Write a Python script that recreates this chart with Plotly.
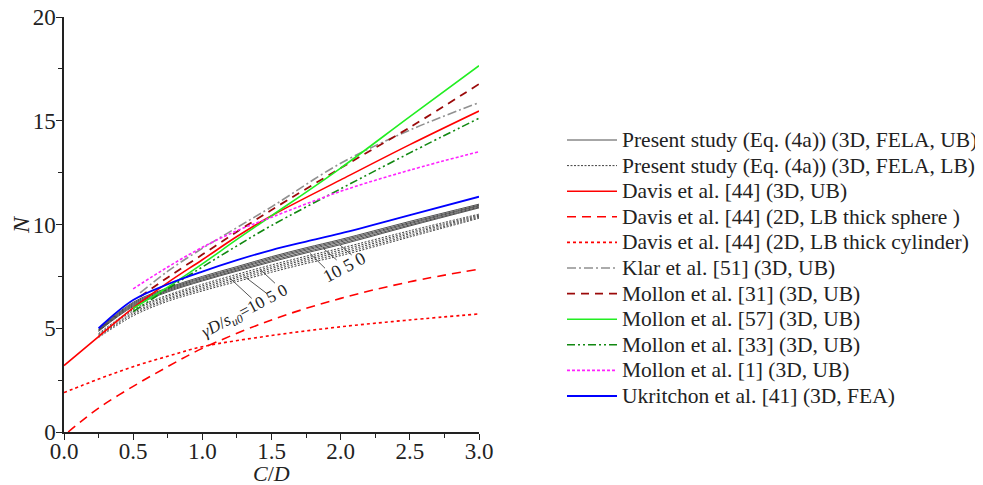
import plotly.graph_objects as go

# ---------------- data ----------------
C_fela = [0.25, 0.5, 0.75, 1.0, 1.25, 1.5, 1.75, 2.0, 2.5, 3.0]
ub_g0 = [4.97, 6.25, 6.95, 7.50, 7.97, 8.45, 8.88, 9.28, 10.15, 10.98]
ub_g25 = [4.94, 6.20, 6.90, 7.44, 7.91, 8.39, 8.82, 9.22, 10.09, 10.93]
ub_g5 = [4.91, 6.15, 6.85, 7.39, 7.86, 8.33, 8.76, 9.16, 10.04, 10.89]
ub_g75 = [4.88, 6.10, 6.80, 7.33, 7.80, 8.26, 8.69, 9.09, 9.98, 10.84]
ub_g10 = [4.85, 6.05, 6.75, 7.28, 7.75, 8.20, 8.63, 9.03, 9.93, 10.80]
lb_g0 = [4.75, 5.90, 6.60, 7.12, 7.60, 8.05, 8.47, 8.86, 9.70, 10.50]
lb_g25 = [4.70, 5.83, 6.53, 7.04, 7.51, 7.96, 8.38, 8.77, 9.62, 10.45]
lb_g5 = [4.65, 5.75, 6.45, 6.96, 7.43, 7.88, 8.30, 8.68, 9.55, 10.40]
lb_g75 = [4.60, 5.68, 6.38, 6.88, 7.34, 7.79, 8.21, 8.59, 9.47, 10.35]
lb_g10 = [4.55, 5.60, 6.30, 6.80, 7.25, 7.70, 8.12, 8.50, 9.40, 10.30]

ukritchon_N = [5.00, 6.36, 7.12, 7.73, 8.28, 8.77, 9.18, 9.57, 10.45, 11.34]

C_davis3d = [0, 0.25, 0.5, 0.75, 1.0, 1.25, 1.5, 2.0, 2.5, 3.0]
davis3d_N = [3.2, 4.6, 5.98, 7.2, 8.3, 9.42, 10.42, 12.15, 13.85, 15.47]

C_sphere = [0.03, 0.25, 0.5, 0.75, 1.0, 1.5, 2.0, 2.5, 3.0]
sphere_N = [0.0, 1.15, 2.2, 3.15, 4.03, 5.4, 6.44, 7.24, 7.85]

C_cyl = [0, 0.25, 0.5, 0.75, 1.0, 1.5, 2.0, 2.5, 3.0]
cyl_N = [1.9, 2.55, 3.15, 3.65, 4.11, 4.65, 5.07, 5.4, 5.69]

C_m55 = [0.55, 0.75, 1.0, 1.25, 1.5, 2.0, 2.5, 3.0]
klar_N = [6.7, 7.75, 8.85, 9.85, 10.85, 12.95, 14.55, 15.87]
mollon31_N = [6.52, 7.45, 8.55, 9.65, 10.7, 12.72, 14.68, 16.77]

C_m50 = [0.5, 0.75, 1.0, 1.25, 1.5, 2.0, 2.5, 3.0]
mollon57_N = [5.95, 6.98, 8.1, 9.28, 10.42, 12.72, 15.2, 17.65]
mollon33_N = [5.8, 6.9, 7.95, 8.97, 9.95, 11.72, 13.45, 15.12]
mollon1_N = [6.9, 7.95, 8.9, 9.7, 10.35, 11.6, 12.62, 13.51]

x_ticks = [0.0, 0.5, 1.0, 1.5, 2.0, 2.5, 3.0]
y_ticks = [0, 5, 10, 15, 20]

legend_labels = [
    "Present study (Eq. (4a)) (3D, FELA, UB)",
    "Present study (Eq. (4a)) (3D, FELA, LB)",
    "Davis et al. [44] (3D, UB)",
    "Davis et al. [44] (2D, LB thick sphere )",
    "Davis et al. [44] (2D, LB thick cylinder)",
    "Klar et al. [51] (3D, UB)",
    "Mollon et al. [31] (3D, UB)",
    "Mollon et al. [57] (3D, UB)",
    "Mollon et al. [33] (3D, UB)",
    "Mollon et al. [1] (3D, UB)",
    "Ukritchon et al. [41] (3D, FEA)",
]

FONT = "Liberation Serif, Times New Roman, serif"
TXT = "#222222"

# line styles (one per legend entry)
styles = [
    dict(color="#3a3a3a", width=0.9),
    dict(color="#2a2a2a", width=0.9, dash="2px,1.5px"),
    dict(color="#ff0000", width=1.6),
    dict(color="#ff0000", width=1.6, dash="9px,6px"),
    dict(color="#ff0000", width=1.6, dash="3px,3px"),
    dict(color="#909090", width=1.6, dash="9px,3px,2px,3px"),
    dict(color="#9b0a0a", width=1.8, dash="8px,6px"),
    dict(color="#22ee22", width=1.6),
    dict(color="#118811", width=1.6, dash="8px,3px,2px,3px,2px,3px"),
    dict(color="#ff22ff", width=1.6, dash="3px,2px"),
    dict(color="#0000ff", width=1.8),
]

fig = go.Figure()

def add(x, y, idx):
    fig.add_trace(go.Scatter(x=x, y=y, mode="lines", name=legend_labels[idx],
                             line=dict(shape="spline", **styles[idx]), showlegend=False))

for ys in [ub_g0, ub_g25, ub_g5, ub_g75, ub_g10]:
    add(C_fela, ys, 0)
for ys in [lb_g0, lb_g25, lb_g5, lb_g75, lb_g10]:
    add(C_fela, ys, 1)
add(C_davis3d, davis3d_N, 2)
add(C_sphere, sphere_N, 3)
add(C_cyl, cyl_N, 4)
add(C_m55, klar_N, 5)
add(C_m55, mollon31_N, 6)
add(C_m50, mollon57_N, 7)
add(C_m50, mollon33_N, 8)
add(C_m50, mollon1_N, 9)
add(C_fela, ukritchon_N, 10)

# ---- geometry (page pixels of the plot area; the page body adds an 8px offset) ----
OFF = 8
PX_L, PX_R, PX_T, PX_B = 64, 479, 17, 432
W = PX_R - PX_L
H = PX_B - PX_T
def px2paper(px, py):
    return (px - PX_L) / W, (PX_B - py) / H

for i, lab in enumerate(legend_labels):
    py = 140 + 25.6 * i
    x0, y0 = px2paper(567, py)
    x1, _ = px2paper(617, py)
    fig.add_shape(type="line", xref="paper", yref="paper", x0=x0, x1=x1, y0=y0, y1=y0,
                  line=styles[i])
    tx, ty = px2paper(620, py)
    fig.add_annotation(xref="paper", yref="paper", x=tx, y=ty, xanchor="left", yanchor="middle",
                       showarrow=False, text=lab, font=dict(family=FONT, size=21.5, color=TXT))

# leader lines for gamma labels
leaders = [
    (1.20, 7.41, 1.357, 6.44), (1.308, 7.48, 1.465, 6.68), (1.417, 7.84, 1.525, 7.17),
    (1.778, 8.61, 1.887, 7.89), (1.874, 8.85, 1.971, 8.29), (1.995, 9.01, 2.08, 8.53),
]
for x0, y0, x1, y1 in leaders:
    fig.add_shape(type="line", x0=x0, y0=y0, x1=x1, y1=y1, xref="x", yref="y",
                  line=dict(color="#555555", width=1))

fig.add_annotation(x=1.31, y=5.78, xref="x", yref="y", showarrow=False, textangle=-28,
                   text="<i>γD</i>/<i>s</i><sub><i>u0</i></sub>=10 5 0",
                   font=dict(family=FONT, size=17, color=TXT))
fig.add_annotation(x=2.03, y=7.93, xref="x", yref="y", showarrow=False, textangle=-28,
                   text="10 5 0", font=dict(family=FONT, size=18, color=TXT))

# axis titles
fig.add_annotation(xref="paper", yref="paper", x=px2paper(271, 0)[0], y=px2paper(0, 473)[1],
                   showarrow=False, text="<i>C</i>/<i>D</i>", xanchor="center", yanchor="middle",
                   font=dict(family=FONT, size=22, color=TXT))
fig.add_annotation(xref="paper", yref="paper", x=px2paper(21, 0)[0], y=px2paper(0, 225)[1],
                   showarrow=False, text="<i>N</i>", textangle=-90, xanchor="center", yanchor="middle",
                   font=dict(family=FONT, size=24, color=TXT))

fig.update_layout(
    width=983, height=485,
    margin=dict(l=PX_L - OFF, r=983 - PX_R + OFF, t=PX_T - OFF, b=485 - PX_B + OFF),
    paper_bgcolor="white", plot_bgcolor="white",
    font=dict(family=FONT, size=17, color=TXT),
    showlegend=False,
    xaxis=dict(range=[0, 3], tickvals=x_ticks, ticktext=[f"{v:.1f}" for v in x_ticks],
               ticks="outside", ticklen=6, tickwidth=1.2, tickcolor=TXT, automargin=False,
               ticklabelstandoff=-8, ticklabeloverflow="allow",
               showline=True, linecolor=TXT, linewidth=1.5, showgrid=False, zeroline=False,
               minor=dict(dtick=0.25, ticks="outside", ticklen=4, tickcolor=TXT),
               tickfont=dict(family=FONT, size=23, color=TXT)),
    yaxis=dict(range=[0, 20], tickvals=y_ticks, automargin=False,
               ticklabelstandoff=-4, ticklabeloverflow="allow",
               ticks="outside", ticklen=6, tickwidth=1.2, tickcolor=TXT,
               showline=True, linecolor=TXT, linewidth=1.5, showgrid=False, zeroline=False,
               minor=dict(dtick=2.5, ticks="outside", ticklen=4, tickcolor=TXT),
               tickfont=dict(family=FONT, size=23, color=TXT)),
)

fig.write_html("out.html")
